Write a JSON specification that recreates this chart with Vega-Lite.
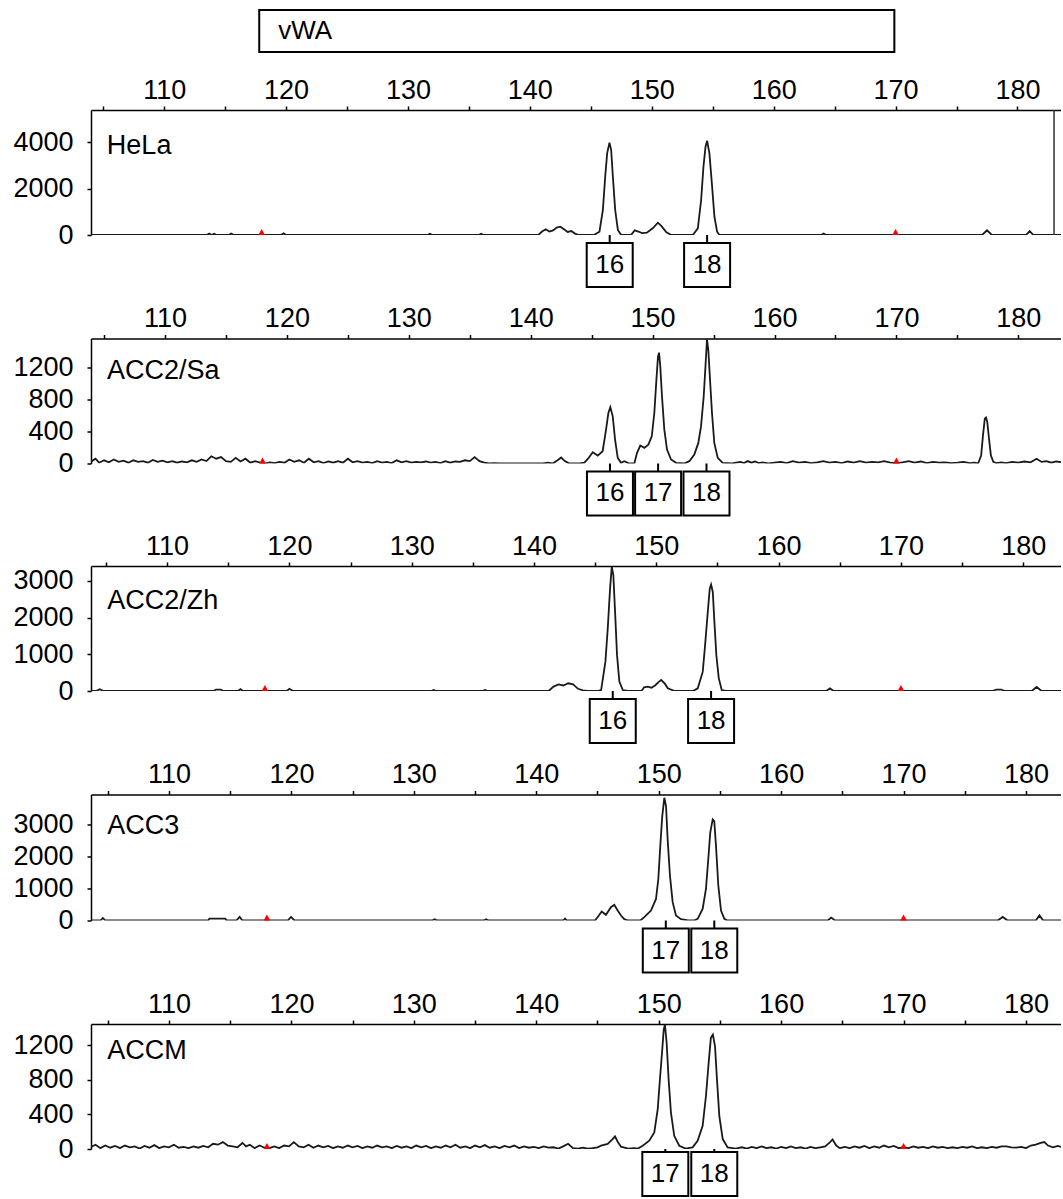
{
  "$schema": "https://vega.github.io/schema/vega-lite/v6.json",
  "background": "white",
  "padding": {"left": 12, "top": 9, "right": 0, "bottom": 0},
  "spacing": 12.5,
  "resolve": {"scale": {"x": "independent", "y": "independent"}},
  "config": {
    "font": "Liberation Sans",
    "view": {"stroke": null},
    "axis": {"labelFont": "Liberation Sans", "labelFontSize": 27, "labelColor": "#000", "tickColor": "#000", "tickSize": 4, "tickWidth": 1.5, "domainColor": "#000", "domainWidth": 1.5, "labelOverlap": false, "labelFlush": false, "labelBound": false, "grid": false},
    "axisX": {"labelPadding": 2},
    "axisY": {"labelPadding": 14}
  },
  "datasets": {
    "markers": [{"s": 118}, {"s": 170}],
    "hela": [
      {"s":104,"v":0},{"s":113.5,"v":0},{"s":113.7,"v":60},{"s":113.9,"v":0},{"s":114.1,"v":50},{"s":114.3,"v":0},
      {"s":115.3,"v":0},{"s":115.5,"v":60},{"s":115.7,"v":0},{"s":119.6,"v":0},{"s":119.8,"v":70},{"s":120,"v":0},
      {"s":131.6,"v":0},{"s":131.8,"v":50},{"s":132,"v":0},{"s":135.8,"v":0},{"s":136,"v":50},{"s":136.2,"v":0},
      {"s":140.7,"v":0},{"s":141,"v":150},{"s":141.3,"v":250},{"s":141.6,"v":150},{"s":141.9,"v":200},{"s":142.2,"v":320},
      {"s":142.5,"v":360},{"s":142.8,"v":250},{"s":143.1,"v":130},{"s":143.4,"v":170},{"s":143.7,"v":60},{"s":144,"v":0},
      {"s":145.25,"v":0},{"s":145.71,"v":142},{"s":145.99,"v":1078},{"s":146.18,"v":2513},{"s":146.34,"v":3521},{"s":146.53,"v":3978},
      {"s":146.67,"v":3664},{"s":146.81,"v":2513},{"s":147,"v":1078},{"s":147.22,"v":216},{"s":147.49,"v":0},
      {"s":148.3,"v":0},{"s":148.6,"v":200},{"s":148.9,"v":150},{"s":149.2,"v":80},{"s":149.6,"v":100},{"s":150.1,"v":300},
      {"s":150.5,"v":530},{"s":150.8,"v":380},{"s":151.2,"v":120},{"s":151.6,"v":0},
      {"s":153.37,"v":0},{"s":153.78,"v":289},{"s":154.05,"v":1509},{"s":154.24,"v":2944},{"s":154.41,"v":3806},{"s":154.54,"v":4065},
      {"s":154.73,"v":3521},{"s":154.93,"v":2228},{"s":155.14,"v":789},{"s":155.36,"v":142},{"s":155.55,"v":0},
      {"s":163.9,"v":0},{"s":164.1,"v":60},{"s":164.3,"v":0},{"s":177.1,"v":0},{"s":177.5,"v":200},{"s":177.9,"v":0},
      {"s":180.7,"v":0},{"s":181,"v":170},{"s":181.3,"v":0},{"s":183.6,"v":0}
    ],
    "sa": [
      {"s":103.9,"v":20},{"s":104.3,"v":60},{"s":104.6,"v":10},{"s":105,"v":40},{"s":105.4,"v":15},{"s":105.8,"v":50},{"s":106.2,"v":20},
      {"s":106.6,"v":35},{"s":107,"v":10},{"s":107.4,"v":40},{"s":107.8,"v":20},{"s":108.2,"v":30},{"s":108.6,"v":10},{"s":109,"v":45},
      {"s":109.4,"v":20},{"s":109.8,"v":35},{"s":110.2,"v":15},{"s":110.6,"v":30},{"s":111,"v":10},{"s":111.4,"v":25},{"s":111.8,"v":15},
      {"s":112.2,"v":40},{"s":112.6,"v":20},{"s":113,"v":50},{"s":113.4,"v":30},{"s":113.8,"v":90},{"s":114.2,"v":60},{"s":114.6,"v":80},
      {"s":115,"v":30},{"s":115.4,"v":20},{"s":115.8,"v":70},{"s":116.2,"v":25},{"s":116.6,"v":60},{"s":117,"v":10},{"s":117.4,"v":30},
      {"s":117.8,"v":10},{"s":118.2,"v":0},{"s":118.6,"v":15},{"s":119,"v":5},{"s":119.4,"v":20},{"s":119.8,"v":10},{"s":120.2,"v":50},
      {"s":120.6,"v":20},{"s":121,"v":40},{"s":121.4,"v":10},{"s":121.8,"v":60},{"s":122.2,"v":15},{"s":122.6,"v":30},{"s":123,"v":5},
      {"s":123.4,"v":25},{"s":123.8,"v":10},{"s":124.2,"v":30},{"s":124.6,"v":10},{"s":125,"v":60},{"s":125.4,"v":15},{"s":125.8,"v":30},
      {"s":126.2,"v":10},{"s":126.6,"v":20},{"s":127,"v":5},{"s":127.4,"v":30},{"s":127.8,"v":10},{"s":128.2,"v":20},{"s":128.6,"v":5},
      {"s":129,"v":40},{"s":129.4,"v":15},{"s":129.8,"v":30},{"s":130.2,"v":10},{"s":130.6,"v":20},{"s":131,"v":15},{"s":131.4,"v":25},
      {"s":131.8,"v":10},{"s":132.2,"v":20},{"s":132.6,"v":5},{"s":133,"v":30},{"s":133.4,"v":10},{"s":133.8,"v":25},{"s":134.2,"v":20},
      {"s":134.6,"v":40},{"s":135,"v":30},{"s":135.4,"v":80},{"s":135.8,"v":30},{"s":136.2,"v":10},{"s":136.6,"v":0},{"s":137,"v":5},
      {"s":137.4,"v":0},{"s":141,"v":0},{"s":141.4,"v":10},{"s":141.8,"v":0},{"s":142.2,"v":40},{"s":142.5,"v":75},{"s":142.8,"v":30},
      {"s":143.1,"v":5},{"s":143.5,"v":0},{"s":144,"v":0},{"s":144.4,"v":10},{"s":144.7,"v":60},{"s":145.09,"v":140},{"s":145.5,"v":99},
      {"s":145.9,"v":153},{"s":146.18,"v":422},{"s":146.37,"v":630},{"s":146.53,"v":704},{"s":146.73,"v":588},{"s":146.92,"v":298},
      {"s":147.14,"v":71},{"s":147.41,"v":9},{"s":147.68,"v":29},{"s":148,"v":5},{"s":148.5,"v":0},{"s":148.72,"v":133},{"s":148.99,"v":224},
      {"s":149.32,"v":195},{"s":149.65,"v":236},{"s":149.93,"v":339},{"s":150.14,"v":630},{"s":150.31,"v":1043},{"s":150.44,"v":1333},
      {"s":150.53,"v":1383},{"s":150.63,"v":1209},{"s":150.77,"v":836},{"s":150.96,"v":422},{"s":151.18,"v":174},{"s":151.51,"v":50},
      {"s":151.92,"v":9},{"s":152.6,"v":0},{"s":153.01,"v":29},{"s":153.42,"v":112},{"s":153.75,"v":257},{"s":153.97,"v":463},
      {"s":154.19,"v":836},{"s":154.35,"v":1251},{"s":154.46,"v":1550},{"s":154.57,"v":1416},{"s":154.71,"v":1043},{"s":154.87,"v":630},
      {"s":155.06,"v":257},{"s":155.34,"v":71},{"s":155.75,"v":9},{"s":156.5,"v":0},{"s":157.2,"v":20},{"s":157.5,"v":5},{"s":157.8,"v":30},
      {"s":158.1,"v":10},{"s":158.4,"v":25},{"s":158.7,"v":5},{"s":159,"v":15},{"s":159.5,"v":0},{"s":160,"v":10},{"s":160.5,"v":20},
      {"s":161,"v":5},{"s":161.5,"v":30},{"s":162,"v":10},{"s":162.5,"v":20},{"s":163,"v":5},{"s":163.5,"v":15},{"s":164,"v":30},
      {"s":164.5,"v":10},{"s":165,"v":20},{"s":165.5,"v":5},{"s":166,"v":25},{"s":166.5,"v":10},{"s":167,"v":30},{"s":167.5,"v":10},
      {"s":168,"v":20},{"s":168.5,"v":15},{"s":169,"v":30},{"s":169.5,"v":10},{"s":170,"v":0},{"s":170.5,"v":15},{"s":171,"v":30},
      {"s":171.5,"v":10},{"s":172,"v":25},{"s":172.5,"v":5},{"s":173,"v":20},{"s":173.5,"v":10},{"s":174,"v":15},{"s":174.5,"v":5},
      {"s":175,"v":10},{"s":175.5,"v":20},{"s":176,"v":5},{"s":176.4,"v":10},{"s":176.7,"v":0},{"s":176.95,"v":100},{"s":177.1,"v":350},
      {"s":177.25,"v":560},{"s":177.35,"v":575},{"s":177.45,"v":520},{"s":177.6,"v":300},{"s":177.75,"v":100},{"s":177.95,"v":20},
      {"s":178.2,"v":5},{"s":178.6,"v":15},{"s":179,"v":5},{"s":179.5,"v":20},{"s":180,"v":10},{"s":180.5,"v":25},{"s":181,"v":15},
      {"s":181.5,"v":60},{"s":181.9,"v":20},{"s":182.3,"v":30},{"s":182.7,"v":10},{"s":183.1,"v":25},{"s":183.6,"v":15}
    ],
    "zh": [
      {"s":103.7,"v":0},{"s":104.2,"v":0},{"s":104.5,"v":50},{"s":104.8,"v":0},{"s":113.8,"v":0},{"s":114,"v":40},{"s":114.4,"v":40},
      {"s":114.6,"v":0},{"s":115.8,"v":0},{"s":116,"v":50},{"s":116.2,"v":0},{"s":119.8,"v":0},{"s":120,"v":60},{"s":120.3,"v":0},
      {"s":131.6,"v":0},{"s":131.8,"v":30},{"s":132,"v":0},{"s":135.8,"v":0},{"s":136,"v":30},{"s":136.2,"v":0},
      {"s":141.2,"v":0},{"s":141.6,"v":120},{"s":142,"v":180},{"s":142.4,"v":150},{"s":142.8,"v":210},{"s":143.2,"v":180},{"s":143.6,"v":60},
      {"s":144,"v":20},{"s":144.4,"v":0},{"s":145.2,"v":0},{"s":145.49,"v":27},{"s":145.84,"v":800},{"s":146.03,"v":1700},{"s":146.22,"v":2790},
      {"s":146.36,"v":3390},{"s":146.49,"v":3152},{"s":146.63,"v":2157},{"s":146.79,"v":978},{"s":146.98,"v":255},{"s":147.26,"v":27},
      {"s":147.67,"v":0},{"s":148.8,"v":0},{"s":149,"v":100},{"s":149.3,"v":120},{"s":149.6,"v":90},{"s":149.9,"v":150},{"s":150.2,"v":250},
      {"s":150.4,"v":300},{"s":150.7,"v":200},{"s":150.94,"v":73},{"s":151.5,"v":0},{"s":153,"v":0},{"s":153.39,"v":73},{"s":153.8,"v":527},
      {"s":153.99,"v":1250},{"s":154.21,"v":2157},{"s":154.37,"v":2790},{"s":154.48,"v":2900},{"s":154.62,"v":2700},{"s":154.75,"v":1886},
      {"s":154.91,"v":978},{"s":155.11,"v":345},{"s":155.35,"v":27},{"s":155.7,"v":0},{"s":163.9,"v":0},{"s":164.2,"v":70},{"s":164.5,"v":0},
      {"s":177.5,"v":0},{"s":177.8,"v":40},{"s":178.2,"v":40},{"s":178.5,"v":0},{"s":180.7,"v":0},{"s":181.1,"v":110},{"s":181.5,"v":0},
      {"s":183.2,"v":0}
    ],
    "acc3": [
      {"s":103.6,"v":0},{"s":104.4,"v":0},{"s":104.6,"v":80},{"s":104.8,"v":0},{"s":113.2,"v":0},{"s":113.3,"v":60},{"s":114.6,"v":60},
      {"s":114.7,"v":0},{"s":115.5,"v":0},{"s":115.77,"v":110},{"s":116,"v":0},{"s":119.7,"v":0},{"s":119.97,"v":110},{"s":120.25,"v":0},
      {"s":131.5,"v":0},{"s":131.7,"v":40},{"s":131.9,"v":0},{"s":135.7,"v":0},{"s":135.9,"v":40},{"s":136.1,"v":0},
      {"s":142.2,"v":0},{"s":142.35,"v":60},{"s":142.5,"v":0},{"s":144.8,"v":0},{"s":145.1,"v":150},{"s":145.34,"v":280},{"s":145.69,"v":177},
      {"s":146.1,"v":416},{"s":146.37,"v":488},{"s":146.65,"v":311},{"s":146.92,"v":155},{"s":147.19,"v":43},{"s":147.5,"v":0},
      {"s":148.5,"v":0},{"s":148.82,"v":106},{"s":149.37,"v":311},{"s":149.78,"v":674},{"s":149.97,"v":1295},{"s":150.13,"v":2329},
      {"s":150.29,"v":3261},{"s":150.46,"v":3832},{"s":150.6,"v":3572},{"s":150.73,"v":2538},{"s":150.92,"v":1398},{"s":151.14,"v":571},
      {"s":151.41,"v":155},{"s":151.82,"v":43},{"s":152.4,"v":0},{"s":152.9,"v":0},{"s":153.18,"v":53},{"s":153.59,"v":363},{"s":153.86,"v":985},
      {"s":154.05,"v":1916},{"s":154.21,"v":2746},{"s":154.41,"v":3159},{"s":154.54,"v":3106},{"s":154.68,"v":2329},{"s":154.87,"v":1087},
      {"s":155.09,"v":311},{"s":155.36,"v":53},{"s":155.6,"v":0},{"s":163.8,"v":0},{"s":164.1,"v":90},{"s":164.4,"v":0},
      {"s":177.7,"v":0},{"s":178.1,"v":110},{"s":178.5,"v":0},{"s":180.8,"v":0},{"s":181.1,"v":160},{"s":181.4,"v":0},{"s":183,"v":0}
    ],
    "accm": [
      {"s":103.6,"v":20},{"s":104,"v":50},{"s":104.4,"v":10},{"s":104.8,"v":40},{"s":105.2,"v":15},{"s":105.6,"v":35},{"s":106,"v":10},
      {"s":106.4,"v":40},{"s":106.8,"v":20},{"s":107.2,"v":30},{"s":107.6,"v":5},{"s":108,"v":35},{"s":108.4,"v":15},{"s":108.8,"v":45},
      {"s":109.2,"v":10},{"s":109.6,"v":30},{"s":110,"v":20},{"s":110.4,"v":50},{"s":110.8,"v":15},{"s":111.2,"v":25},{"s":111.6,"v":10},
      {"s":112,"v":30},{"s":112.4,"v":15},{"s":112.8,"v":35},{"s":113.2,"v":20},{"s":113.6,"v":60},{"s":114,"v":50},{"s":114.4,"v":80},
      {"s":114.8,"v":40},{"s":115.2,"v":30},{"s":115.6,"v":20},{"s":116,"v":70},{"s":116.3,"v":30},{"s":116.6,"v":50},{"s":117,"v":10},
      {"s":117.4,"v":40},{"s":117.8,"v":15},{"s":118.2,"v":10},{"s":118.6,"v":30},{"s":119,"v":10},{"s":119.4,"v":40},{"s":119.8,"v":30},
      {"s":120.2,"v":80},{"s":120.6,"v":30},{"s":121,"v":20},{"s":121.4,"v":50},{"s":121.8,"v":15},{"s":122.2,"v":40},{"s":122.6,"v":20},
      {"s":123,"v":35},{"s":123.4,"v":10},{"s":123.8,"v":30},{"s":124.2,"v":15},{"s":124.6,"v":40},{"s":125,"v":20},{"s":125.4,"v":35},
      {"s":125.8,"v":10},{"s":126.2,"v":30},{"s":126.6,"v":15},{"s":127,"v":40},{"s":127.4,"v":20},{"s":127.8,"v":30},{"s":128.2,"v":10},
      {"s":128.6,"v":35},{"s":129,"v":15},{"s":129.4,"v":30},{"s":129.8,"v":10},{"s":130.2,"v":40},{"s":130.6,"v":20},{"s":131,"v":35},
      {"s":131.4,"v":10},{"s":131.8,"v":30},{"s":132.2,"v":15},{"s":132.6,"v":40},{"s":133,"v":20},{"s":133.4,"v":50},{"s":133.8,"v":15},
      {"s":134.2,"v":30},{"s":134.6,"v":10},{"s":135,"v":40},{"s":135.4,"v":20},{"s":135.8,"v":45},{"s":136.2,"v":15},{"s":136.6,"v":30},
      {"s":137,"v":10},{"s":137.4,"v":35},{"s":137.8,"v":20},{"s":138.2,"v":40},{"s":138.6,"v":10},{"s":139,"v":30},{"s":139.4,"v":15},
      {"s":139.8,"v":25},{"s":140.2,"v":10},{"s":140.6,"v":30},{"s":141,"v":15},{"s":141.4,"v":20},{"s":141.8,"v":5},{"s":142.2,"v":30},
      {"s":142.6,"v":60},{"s":143,"v":10},{"s":143.4,"v":5},{"s":143.8,"v":15},{"s":144.2,"v":5},{"s":144.6,"v":10},{"s":145,"v":20},
      {"s":145.29,"v":38},{"s":145.83,"v":58},{"s":146.24,"v":115},{"s":146.43,"v":146},{"s":146.65,"v":84},{"s":146.92,"v":27},
      {"s":147.5,"v":5},{"s":148,"v":10},{"s":148.3,"v":5},{"s":148.69,"v":38},{"s":149.23,"v":96},{"s":149.64,"v":192},{"s":149.92,"v":461},
      {"s":150.1,"v":806},{"s":150.27,"v":1113},{"s":150.41,"v":1382},{"s":150.51,"v":1440},{"s":150.65,"v":1228},{"s":150.81,"v":806},
      {"s":151,"v":422},{"s":151.27,"v":153},{"s":151.68,"v":38},{"s":152.2,"v":5},{"s":152.77,"v":19},{"s":153.18,"v":96},{"s":153.59,"v":269},
      {"s":153.86,"v":614},{"s":154.08,"v":998},{"s":154.26,"v":1287},{"s":154.43,"v":1325},{"s":154.6,"v":1190},{"s":154.76,"v":806},
      {"s":154.95,"v":384},{"s":155.23,"v":115},{"s":155.63,"v":19},{"s":156.3,"v":5},{"s":156.8,"v":20},{"s":157.2,"v":5},{"s":157.6,"v":25},
      {"s":158,"v":10},{"s":158.4,"v":30},{"s":158.8,"v":10},{"s":159.2,"v":20},{"s":159.6,"v":5},{"s":160,"v":25},{"s":160.4,"v":10},
      {"s":160.8,"v":30},{"s":161.2,"v":10},{"s":161.6,"v":20},{"s":162,"v":5},{"s":162.4,"v":25},{"s":162.8,"v":10},{"s":163.2,"v":20},
      {"s":163.6,"v":30},{"s":164,"v":80},{"s":164.2,"v":110},{"s":164.5,"v":40},{"s":164.8,"v":10},{"s":165.2,"v":25},{"s":165.6,"v":10},
      {"s":166,"v":30},{"s":166.4,"v":15},{"s":166.8,"v":35},{"s":167.2,"v":10},{"s":167.6,"v":30},{"s":168,"v":15},{"s":168.4,"v":40},
      {"s":168.8,"v":20},{"s":169.2,"v":35},{"s":169.6,"v":10},{"s":170,"v":20},{"s":170.4,"v":10},{"s":170.8,"v":30},{"s":171.2,"v":15},
      {"s":171.6,"v":25},{"s":172,"v":10},{"s":172.4,"v":30},{"s":172.8,"v":15},{"s":173.2,"v":25},{"s":173.6,"v":10},{"s":174,"v":20},
      {"s":174.4,"v":10},{"s":174.8,"v":25},{"s":175.2,"v":15},{"s":175.6,"v":30},{"s":176,"v":10},{"s":176.4,"v":20},{"s":176.8,"v":10},
      {"s":177.2,"v":25},{"s":177.6,"v":15},{"s":178,"v":30},{"s":178.4,"v":30},{"s":178.8,"v":20},{"s":179.2,"v":15},{"s":179.6,"v":25},
      {"s":180,"v":10},{"s":180.4,"v":40},{"s":180.8,"v":50},{"s":181.2,"v":70},{"s":181.5,"v":80},{"s":181.8,"v":40},{"s":182.2,"v":20},
      {"s":182.6,"v":35},{"s":183.1,"v":15}
    ]
  },
  "vconcat": [
    {
      "width": 970, "height": 125,
      "layer": [
        {"data": {"name": "hela"}, "mark": {"type": "line", "color": "#1a1a1a", "strokeWidth": 1.8, "clip": true},
         "encoding": {
           "x": {"field": "s", "type": "quantitative", "scale": {"domain": [104, 183.57], "nice": false, "zero": false},
                 "axis": {"orient": "top", "title": null, "values": [105,110,115,120,125,130,135,140,145,150,155,160,165,170,175,180], "format": "d", "labelExpr": "datum.value % 10 === 0 ? datum.label : ''"}},
           "y": {"field": "v", "type": "quantitative", "scale": {"domain": [0, 5390], "nice": false},
                 "axis": {"title": null, "values": [0,1000,2000,3000,4000,5000], "format": "d", "labelExpr": "datum.value % 2000 === 0 ? datum.label : ''"}}}},
        {"data": {"values": [{"s": 183.0}]}, "mark": {"type": "rule", "color": "#333", "strokeWidth": 1.5}, "encoding": {"x": {"field": "s", "type": "quantitative"}}},
        {"data": {"name": "markers"}, "mark": {"type": "point", "shape": "triangle-up", "filled": true, "color": "#ff0000", "size": 45, "yOffset": -3, "opacity": 1},
         "encoding": {"x": {"field": "s", "type": "quantitative"}, "y": {"datum": 0, "type": "quantitative"}}},
        {"data": {"values": [{"name": "HeLa", "s": 105.3, "v": 3850}]}, "mark": {"type": "text", "align": "left", "baseline": "middle", "fontSize": 27, "font": "Liberation Sans", "color": "#000"},
         "encoding": {"x": {"field": "s", "type": "quantitative"}, "y": {"field": "v", "type": "quantitative"}, "text": {"field": "name"}}},
        {"data": {"values": [{"name": "vWA", "start": 117.8, "end": 169.9}]},
         "layer": [
           {"mark": {"type": "rect", "fill": "#ffffff", "stroke": "#000000", "strokeWidth": 2},
            "encoding": {"x": {"field": "start", "type": "quantitative"}, "x2": {"field": "end"}, "y": {"datum": 9702, "type": "quantitative"}, "y2": {"datum": 7891}}},
           {"mark": {"type": "text", "align": "left", "baseline": "middle", "dx": 19, "fontSize": 26, "font": "Liberation Sans", "color": "#000"},
            "encoding": {"x": {"field": "start", "type": "quantitative"}, "y": {"datum": 8796, "type": "quantitative"}, "text": {"field": "name"}}}
         ]},
        {"data": {"values": [{"a": "16", "s": 146.55}, {"a": "18", "s": 154.54}]},
         "layer": [
           {"mark": {"type": "point", "shape": "M-0.92,-0.88L0.92,-0.88L0.92,0.88L-0.92,0.88Z M0,-0.88L0,-1.2", "size": 2500, "filled": false, "stroke": "#000", "strokeWidth": 2, "opacity": 1},
            "encoding": {"x": {"field": "s", "type": "quantitative"}, "y": {"datum": -1294, "type": "quantitative"}}},
           {"mark": {"type": "text", "baseline": "middle", "fontSize": 26, "font": "Liberation Sans", "color": "#000"},
            "encoding": {"x": {"field": "s", "type": "quantitative"}, "y": {"datum": -1294, "type": "quantitative"}, "text": {"field": "a"}}}
         ]}
      ]
    },
    {
      "width": 970, "height": 125,
      "layer": [
        {"data": {"name": "sa"}, "mark": {"type": "line", "color": "#1a1a1a", "strokeWidth": 1.8, "clip": true},
         "encoding": {
           "x": {"field": "s", "type": "quantitative", "scale": {"domain": [103.93, 183.5], "nice": false, "zero": false},
                 "axis": {"orient": "top", "title": null, "values": [105,110,115,120,125,130,135,140,145,150,155,160,165,170,175,180], "format": "d", "labelExpr": "datum.value % 10 === 0 ? datum.label : ''"}},
           "y": {"field": "v", "type": "quantitative", "scale": {"domain": [0, 1560], "nice": false},
                 "axis": {"title": null, "values": [0,200,400,600,800,1000,1200,1400], "format": "d", "labelExpr": "datum.value % 400 === 0 ? datum.label : ''"}}}},
        {"data": {"name": "markers"}, "mark": {"type": "point", "shape": "triangle-up", "filled": true, "color": "#ff0000", "size": 45, "yOffset": -3, "opacity": 1},
         "encoding": {"x": {"field": "s", "type": "quantitative"}, "y": {"datum": 0, "type": "quantitative"}}},
        {"data": {"values": [{"name": "ACC2/Sa", "s": 105.25, "v": 1150}]}, "mark": {"type": "text", "align": "left", "baseline": "middle", "fontSize": 27, "font": "Liberation Sans", "color": "#000"},
         "encoding": {"x": {"field": "s", "type": "quantitative"}, "y": {"field": "v", "type": "quantitative"}, "text": {"field": "name"}}},
        {"data": {"values": [{"a": "16", "s": 146.5}, {"a": "17", "s": 150.45}, {"a": "18", "s": 154.42}]},
         "layer": [
           {"mark": {"type": "point", "shape": "M-0.92,-0.88L0.92,-0.88L0.92,0.88L-0.92,0.88Z M0,-0.88L0,-1.2", "size": 2500, "filled": false, "stroke": "#000", "strokeWidth": 2, "opacity": 1},
            "encoding": {"x": {"field": "s", "type": "quantitative"}, "y": {"datum": -374, "type": "quantitative"}}},
           {"mark": {"type": "text", "baseline": "middle", "fontSize": 26, "font": "Liberation Sans", "color": "#000"},
            "encoding": {"x": {"field": "s", "type": "quantitative"}, "y": {"datum": -374, "type": "quantitative"}, "text": {"field": "a"}}}
         ]}
      ]
    },
    {
      "width": 970, "height": 125,
      "layer": [
        {"data": {"name": "zh"}, "mark": {"type": "line", "color": "#1a1a1a", "strokeWidth": 1.8, "clip": true},
         "encoding": {
           "x": {"field": "s", "type": "quantitative", "scale": {"domain": [103.78, 183.09], "nice": false, "zero": false},
                 "axis": {"orient": "top", "title": null, "values": [105,110,115,120,125,130,135,140,145,150,155,160,165,170,175,180], "format": "d", "labelExpr": "datum.value % 10 === 0 ? datum.label : ''"}},
           "y": {"field": "v", "type": "quantitative", "scale": {"domain": [0, 3408], "nice": false},
                 "axis": {"title": null, "values": [0,500,1000,1500,2000,2500,3000], "format": "d", "labelExpr": "datum.value % 1000 === 0 ? datum.label : ''"}}}},
        {"data": {"name": "markers"}, "mark": {"type": "point", "shape": "triangle-up", "filled": true, "color": "#ff0000", "size": 45, "yOffset": -3, "opacity": 1},
         "encoding": {"x": {"field": "s", "type": "quantitative"}, "y": {"datum": 0, "type": "quantitative"}}},
        {"data": {"values": [{"name": "ACC2/Zh", "s": 105.1, "v": 2450}]}, "mark": {"type": "text", "align": "left", "baseline": "middle", "fontSize": 27, "font": "Liberation Sans", "color": "#000"},
         "encoding": {"x": {"field": "s", "type": "quantitative"}, "y": {"field": "v", "type": "quantitative"}, "text": {"field": "name"}}},
        {"data": {"values": [{"a": "16", "s": 146.44}, {"a": "18", "s": 154.48}]},
         "layer": [
           {"mark": {"type": "point", "shape": "M-0.92,-0.88L0.92,-0.88L0.92,0.88L-0.92,0.88Z M0,-0.88L0,-1.2", "size": 2500, "filled": false, "stroke": "#000", "strokeWidth": 2, "opacity": 1},
            "encoding": {"x": {"field": "s", "type": "quantitative"}, "y": {"datum": -818, "type": "quantitative"}}},
           {"mark": {"type": "text", "baseline": "middle", "fontSize": 26, "font": "Liberation Sans", "color": "#000"},
            "encoding": {"x": {"field": "s", "type": "quantitative"}, "y": {"datum": -818, "type": "quantitative"}, "text": {"field": "a"}}}
         ]}
      ]
    },
    {
      "width": 970, "height": 126,
      "layer": [
        {"data": {"name": "acc3"}, "mark": {"type": "line", "color": "#1a1a1a", "strokeWidth": 1.8, "clip": true},
         "encoding": {
           "x": {"field": "s", "type": "quantitative", "scale": {"domain": [103.63, 182.86], "nice": false, "zero": false},
                 "axis": {"orient": "top", "title": null, "values": [105,110,115,120,125,130,135,140,145,150,155,160,165,170,175,180], "format": "d", "labelExpr": "datum.value % 10 === 0 ? datum.label : ''"}},
           "y": {"field": "v", "type": "quantitative", "scale": {"domain": [0, 3935], "nice": false},
                 "axis": {"title": null, "values": [0,500,1000,1500,2000,2500,3000,3500], "format": "d", "labelExpr": "datum.value % 1000 === 0 ? datum.label : ''"}}}},
        {"data": {"name": "markers"}, "mark": {"type": "point", "shape": "triangle-up", "filled": true, "color": "#ff0000", "size": 45, "yOffset": -3, "opacity": 1},
         "encoding": {"x": {"field": "s", "type": "quantitative"}, "y": {"datum": 0, "type": "quantitative"}}},
        {"data": {"values": [{"name": "ACC3", "s": 104.95, "v": 2950}]}, "mark": {"type": "text", "align": "left", "baseline": "middle", "fontSize": 27, "font": "Liberation Sans", "color": "#000"},
         "encoding": {"x": {"field": "s", "type": "quantitative"}, "y": {"field": "v", "type": "quantitative"}, "text": {"field": "name"}}},
        {"data": {"values": [{"a": "17", "s": 150.58}, {"a": "18", "s": 154.54}]},
         "layer": [
           {"mark": {"type": "point", "shape": "M-0.92,-0.88L0.92,-0.88L0.92,0.88L-0.92,0.88Z M0,-0.88L0,-1.2", "size": 2500, "filled": false, "stroke": "#000", "strokeWidth": 2, "opacity": 1},
            "encoding": {"x": {"field": "s", "type": "quantitative"}, "y": {"datum": -937, "type": "quantitative"}}},
           {"mark": {"type": "text", "baseline": "middle", "fontSize": 26, "font": "Liberation Sans", "color": "#000"},
            "encoding": {"x": {"field": "s", "type": "quantitative"}, "y": {"datum": -937, "type": "quantitative"}, "text": {"field": "a"}}}
         ]}
      ]
    },
    {
      "width": 970, "height": 125,
      "layer": [
        {"data": {"name": "accm"}, "mark": {"type": "line", "color": "#1a1a1a", "strokeWidth": 1.8, "clip": true},
         "encoding": {
           "x": {"field": "s", "type": "quantitative", "scale": {"domain": [103.63, 182.86], "nice": false, "zero": false},
                 "axis": {"orient": "top", "title": null, "values": [105,110,115,120,125,130,135,140,145,150,155,160,165,170,175,180], "format": "d", "labelExpr": "datum.value % 10 === 0 ? datum.label : ''"}},
           "y": {"field": "v", "type": "quantitative", "scale": {"domain": [0, 1448], "nice": false},
                 "axis": {"title": null, "values": [0,200,400,600,800,1000,1200,1400], "format": "d", "labelExpr": "datum.value % 400 === 0 ? datum.label : ''"}}}},
        {"data": {"name": "markers"}, "mark": {"type": "point", "shape": "triangle-up", "filled": true, "color": "#ff0000", "size": 45, "yOffset": -3, "opacity": 1},
         "encoding": {"x": {"field": "s", "type": "quantitative"}, "y": {"datum": 0, "type": "quantitative"}}},
        {"data": {"values": [{"name": "ACCM", "s": 104.95, "v": 1130}]}, "mark": {"type": "text", "align": "left", "baseline": "middle", "fontSize": 27, "font": "Liberation Sans", "color": "#000"},
         "encoding": {"x": {"field": "s", "type": "quantitative"}, "y": {"field": "v", "type": "quantitative"}, "text": {"field": "name"}}},
        {"data": {"values": [{"a": "17", "s": 150.54}, {"a": "18", "s": 154.54}]},
         "layer": [
           {"mark": {"type": "point", "shape": "M-0.92,-0.88L0.92,-0.88L0.92,0.88L-0.92,0.88Z M0,-0.88L0,-1.0", "size": 2500, "filled": false, "stroke": "#000", "strokeWidth": 2, "opacity": 1},
            "encoding": {"x": {"field": "s", "type": "quantitative"}, "y": {"datum": -290, "type": "quantitative"}}},
           {"mark": {"type": "text", "baseline": "middle", "fontSize": 26, "font": "Liberation Sans", "color": "#000"},
            "encoding": {"x": {"field": "s", "type": "quantitative"}, "y": {"datum": -290, "type": "quantitative"}, "text": {"field": "a"}}}
         ]}
      ]
    }
  ]
}
